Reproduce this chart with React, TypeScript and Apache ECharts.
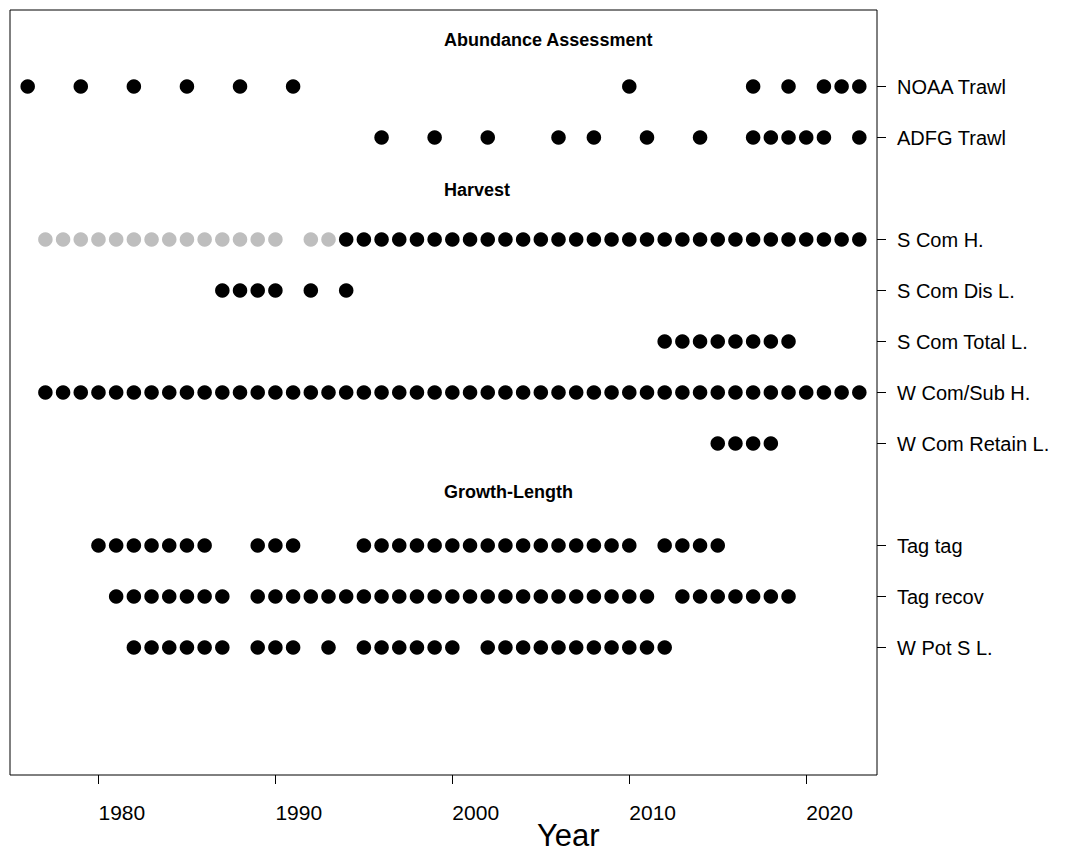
import React, { useEffect, useRef } from "react";
import * as echarts from "echarts";

const FONT = "'Liberation Sans', Arial, Helvetica, sans-serif";

// x axis
const xTickYears = [1980, 1990, 2000, 2010, 2020];
const xAxisTitle = "Year";

// rows (top to bottom); section headers and padding rows carry no tick
const rowCategories = [
  "Abundance Assessment",
  "NOAA Trawl",
  "ADFG Trawl",
  "Harvest",
  "S Com H.",
  "S Com Dis L.",
  "S Com Total L.",
  "W Com/Sub H.",
  "W Com Retain L.",
  "Growth-Length",
  "Tag tag",
  "Tag recov",
  "W Pot S L.",
  "pad1",
  "pad2",
];
const sectionTitles = ["Abundance Assessment", "Harvest", "Growth-Length"];
const dataRows = [
  "NOAA Trawl",
  "ADFG Trawl",
  "S Com H.",
  "S Com Dis L.",
  "S Com Total L.",
  "W Com/Sub H.",
  "W Com Retain L.",
  "Tag tag",
  "Tag recov",
  "W Pot S L.",
];

// years with data
const noaaTrawl = [1976, 1979, 1982, 1985, 1988, 1991, 2010, 2017, 2019, 2021, 2022, 2023];
const adfgTrawl = [1996, 1999, 2002, 2006, 2008, 2011, 2014, 2017, 2018, 2019, 2020, 2021, 2023];
const sComHGray = [1977, 1978, 1979, 1980, 1981, 1982, 1983, 1984, 1985, 1986, 1987, 1988, 1989, 1990, 1992, 1993];
const sComHBlack = [
  1994, 1995, 1996, 1997, 1998, 1999, 2000, 2001, 2002, 2003, 2004, 2005, 2006, 2007, 2008,
  2009, 2010, 2011, 2012, 2013, 2014, 2015, 2016, 2017, 2018, 2019, 2020, 2021, 2022, 2023,
];
const sComDisL = [1987, 1988, 1989, 1990, 1992, 1994];
const sComTotalL = [2012, 2013, 2014, 2015, 2016, 2017, 2018, 2019];
const wComSubH = [
  1977, 1978, 1979, 1980, 1981, 1982, 1983, 1984, 1985, 1986, 1987, 1988, 1989, 1990, 1991, 1992,
  1993, 1994, 1995, 1996, 1997, 1998, 1999, 2000, 2001, 2002, 2003, 2004, 2005, 2006, 2007, 2008,
  2009, 2010, 2011, 2012, 2013, 2014, 2015, 2016, 2017, 2018, 2019, 2020, 2021, 2022, 2023,
];
const wComRetainL = [2015, 2016, 2017, 2018];
const tagTag = [
  1980, 1981, 1982, 1983, 1984, 1985, 1986, 1989, 1990, 1991,
  1995, 1996, 1997, 1998, 1999, 2000, 2001, 2002, 2003, 2004, 2005, 2006, 2007, 2008, 2009, 2010,
  2012, 2013, 2014, 2015,
];
const tagRecov = [
  1981, 1982, 1983, 1984, 1985, 1986, 1987,
  1989, 1990, 1991, 1992, 1993, 1994, 1995, 1996, 1997, 1998, 1999, 2000, 2001, 2002, 2003, 2004,
  2005, 2006, 2007, 2008, 2009, 2010, 2011,
  2013, 2014, 2015, 2016, 2017, 2018, 2019,
];
const wPotSL = [
  1982, 1983, 1984, 1985, 1986, 1987, 1989, 1990, 1991, 1993,
  1995, 1996, 1997, 1998, 1999, 2000,
  2002, 2003, 2004, 2005, 2006, 2007, 2008, 2009, 2010, 2011, 2012,
];

const BLACK = "#000000";
const GRAY = "#BEBEBE";

const seriesSpec: [string, number[], string][] = [
  ["NOAA Trawl", noaaTrawl, BLACK],
  ["ADFG Trawl", adfgTrawl, BLACK],
  ["S Com H.", sComHGray, GRAY],
  ["S Com H.", sComHBlack, BLACK],
  ["S Com Dis L.", sComDisL, BLACK],
  ["S Com Total L.", sComTotalL, BLACK],
  ["W Com/Sub H.", wComSubH, BLACK],
  ["W Com Retain L.", wComRetainL, BLACK],
  ["Tag tag", tagTag, BLACK],
  ["Tag recov", tagRecov, BLACK],
  ["W Pot S L.", wPotSL, BLACK],
];

const titleTops = [31, 181, 483];

export default function App() {
  const ref = useRef<HTMLDivElement>(null);
  useEffect(() => {
    if (!ref.current) return;
    const chart = echarts.init(ref.current, null, { renderer: "svg" });
    const isDataRow = (i: number) => dataRows.indexOf(rowCategories[i]) >= 0;
    chart.setOption({
      animation: false,
      backgroundColor: "#ffffff",
      grid: {
        left: 10,
        top: 10,
        right: 193,
        bottom: 77,
        show: true,
        borderColor: "#000",
        borderWidth: 1,
        backgroundColor: "transparent",
        containLabel: false,
      },
      xAxis: {
        type: "value",
        min: 1975,
        max: 2024,
        axisLine: { show: false },
        splitLine: { show: false },
        axisTick: {
          show: true,
          customValues: xTickYears,
          length: 9,
          lineStyle: { color: "#000", width: 1 },
        },
        axisLabel: {
          show: true,
          customValues: xTickYears,
          formatter: (v: number) => String(v),
          align: "left",
          margin: 27,
          color: "#000",
          fontSize: 21,
          fontFamily: FONT,
        },
      },
      yAxis: {
        type: "category",
        data: rowCategories,
        inverse: true,
        position: "right",
        boundaryGap: true,
        axisLine: { show: false },
        splitLine: { show: false },
        axisTick: {
          show: true,
          alignWithLabel: true,
          interval: (i: number) => isDataRow(i),
          length: 9,
          lineStyle: { color: "#000", width: 1 },
        },
        axisLabel: {
          show: true,
          interval: (i: number) => isDataRow(i),
          align: "left",
          margin: 20,
          color: "#000",
          fontSize: 20,
          fontFamily: FONT,
        },
      },
      series: seriesSpec.map(([row, years, color]) => ({
        type: "scatter",
        name: row,
        data: years.map((yr) => [yr, row]),
        symbol: "circle",
        symbolSize: 14.5,
        itemStyle: { color, opacity: 1 },
        silent: true,
      })),
      graphic: [
        ...sectionTitles.map((t, i) => ({
          type: "text",
          left: 444,
          top: titleTops[i],
          style: {
            text: t,
            fill: "#000",
            font: `bold 18px ${FONT}`,
          },
        })),
        {
          type: "text",
          left: 537,
          top: 820,
          style: {
            text: xAxisTitle,
            fill: "#000",
            font: `31px ${FONT}`,
          },
        },
      ],
    });
    return () => chart.dispose();
  }, []);
  return (
    <div
      ref={ref}
      style={{ position: "absolute", left: 0, top: 0, width: 1070, height: 852, background: "#fff" }}
    />
  );
}
